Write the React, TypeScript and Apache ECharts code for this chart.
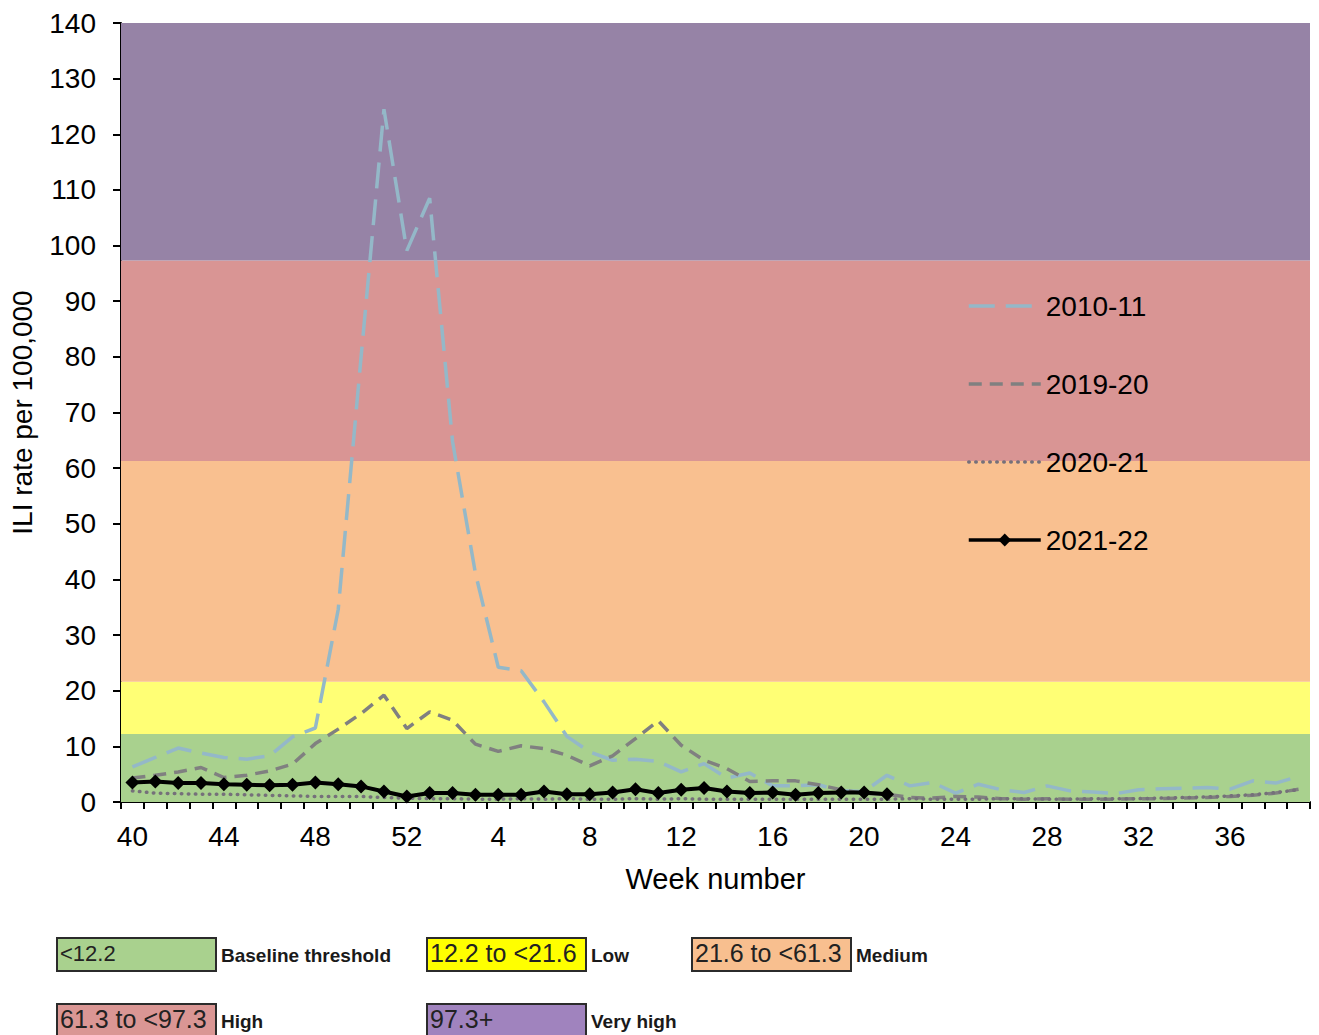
import React, { useEffect, useRef } from "react";
import * as echarts from "echarts";

const weeks = [
  "40", "41", "42", "43", "44", "45", "46", "47", "48", "49", "50", "51", "52",
  "1", "2", "3", "4", "5", "6", "7", "8", "9", "10", "11", "12", "13",
  "14", "15", "16", "17", "18", "19", "20", "21", "22", "23", "24", "25", "26",
  "27", "28", "29", "30", "31", "32", "33", "34", "35", "36", "37", "38", "39",
];

const s2010 = [
  6.3, 8.0, 9.7, 8.8, 8.0, 7.7, 8.3, 11.7, 13.3, 34.6, 80.0, 124.5, 99.1,
  108.5, 64.8, 41.1, 24.2, 23.6, 18.0, 11.8, 9.0, 7.5, 7.7, 7.3, 5.4, 6.9,
  4.3, 5.2, 2.9, 2.9, 3.1, 2.0, 1.9, 4.8, 2.9, 3.5, 1.6, 3.2, 2.2,
  1.7, 2.9, 2.0, 1.8, 1.5, 2.2, 2.4, 2.5, 2.6, 2.3, 3.8, 3.4, 4.6,
];

const s2019 = [
  4.3, 4.8, 5.4, 6.2, 4.4, 4.8, 5.6, 6.8, 10.5, 13.1, 15.9, 19.2, 13.2,
  16.2, 14.7, 10.4, 9.1, 10.1, 9.6, 8.4, 6.5, 8.3, 11.4, 14.6, 10.2, 7.5,
  6.0, 3.7, 3.8, 3.8, 3.1, 2.2, 1.5, 1.4, 0.8, 0.7, 1.0, 0.9, 0.6,
  0.5, 0.6, 0.5, 0.5, 0.5, 0.6, 0.6, 0.7, 0.8, 1.0, 1.2, 1.6, 2.3,
];

const s2020 = [
  2.0, 1.6, 1.5, 1.4, 1.4, 1.3, 1.2, 1.1, 1.0, 1.0, 1.0, 0.8, 0.7,
  0.6, 0.6, 0.5, 0.5, 0.6, 0.5, 0.6, 0.5, 0.5, 0.6, 0.5, 0.6, 0.5,
  0.5, 0.5, 0.5, 0.5, 0.5, 0.5, 0.5, 0.5, 0.6, 0.5, 0.5, 0.5, 0.6,
  0.6, 0.5, 0.5, 0.6, 0.6, 0.6, 0.7, 0.8, 0.9, 1.1, 1.3, 1.7, 2.2,
];

const s2021 = [
  3.5, 3.7, 3.4, 3.4, 3.2, 3.1, 3.0, 3.1, 3.5, 3.2, 2.8, 1.9, 1.0,
  1.6, 1.6, 1.3, 1.3, 1.3, 1.9, 1.4, 1.4, 1.7, 2.3, 1.6, 2.2, 2.5,
  1.9, 1.6, 1.7, 1.3, 1.6, 1.7, 1.7, 1.4,
];

const seriesNames = ["2010-11", "2019-20", "2020-21", "2021-22"];

const thresholds = [0, 12.2, 21.6, 61.3, 97.3, 140];
const bandFill = ["#A9D18E", "#FFFF75", "#F9C090", "#D99594", "#9683A6"];
const boxFill = ["#A9D18E", "#FFFF00", "#F8BF8F", "#DA9694", "#A083BE"];
const bandLabels = ["<12.2", "12.2 to <21.6", "21.6 to <61.3", "61.3 to <97.3", "97.3+"];
const bandNames = ["Baseline threshold", "Low", "Medium", "High", "Very high"];

const FONT = "'Liberation Sans', Arial, sans-serif";

export default function App() {
  const ref = useRef<HTMLDivElement>(null);

  useEffect(() => {
    document.body.style.margin = "0";
    const chart = echarts.init(ref.current!, null, { renderer: "svg" });

    const boxPos = [
      [56, 937],
      [426, 937],
      [691, 937],
      [56, 1003],
      [426, 1003],
    ];
    const graphics: any[] = [];
    bandLabels.forEach((lab, i) => {
      const [bx, by] = boxPos[i];
      graphics.push({
        type: "rect",
        left: bx,
        top: by,
        shape: { width: 159, height: 33 },
        style: { fill: boxFill[i], stroke: "#2b2b2b", lineWidth: 2 },
      });
      graphics.push({
        type: "text",
        left: bx + 4,
        top: by + (i === 0 ? 5 : 3),
        style: {
          text: lab,
          fontSize: i === 0 ? 22 : 25,
          fontFamily: FONT,
          fill: "#222",
        },
      });
      graphics.push({
        type: "text",
        left: bx + 165,
        top: by + 9,
        style: {
          text: bandNames[i],
          fontSize: 19,
          fontWeight: "bold",
          fontFamily: FONT,
          fill: "#1a1a1a",
        },
      });
    });

    const bandAreas = bandFill.map((c, i) => [
      { yAxis: thresholds[i], itemStyle: { color: c, opacity: 1 } },
      { yAxis: thresholds[i + 1] },
    ]);

    chart.setOption({
      animation: false,
      textStyle: { fontFamily: FONT },
      grid: { left: 121, right: 9, top: 23, bottom: 233, containLabel: false },
      legend: {
        data: [
          { name: seriesNames[0], itemStyle: { opacity: 0 }, lineStyle: { width: 3.5, type: [26, 11] } },
          { name: seriesNames[1], itemStyle: { opacity: 0 }, lineStyle: { width: 3.5, type: [13, 8] } },
          { name: seriesNames[2], itemStyle: { opacity: 0 }, lineStyle: { width: 3.5, type: [0.5, 6.5], cap: "round" } },
          { name: seriesNames[3], lineStyle: { width: 3.5 } },
        ],
        orient: "vertical",
        left: 962,
        top: 287,
        itemWidth: 72,
        itemHeight: 16,
        itemGap: 50,
        textStyle: { fontSize: 28, color: "#000", fontFamily: FONT },
      },
      xAxis: {
        type: "category",
        data: weeks,
        boundaryGap: true,
        name: "Week number",
        nameLocation: "middle",
        nameGap: 62,
        nameTextStyle: { fontSize: 29, color: "#000", fontFamily: FONT },
        axisLine: { lineStyle: { color: "#000", width: 2 } },
        axisTick: { show: true, interval: 0, length: 7, lineStyle: { color: "#000", width: 2 } },
        axisLabel: { interval: 3, fontSize: 28, color: "#000", margin: 20, fontFamily: FONT },
        splitLine: { show: false },
      },
      yAxis: {
        type: "value",
        min: 0,
        max: 140,
        interval: 10,
        name: "ILI rate per 100,000",
        nameLocation: "middle",
        nameGap: 85,
        nameRotate: 90,
        nameTextStyle: { fontSize: 28, color: "#000", fontFamily: FONT },
        axisLine: { show: true, lineStyle: { color: "#000", width: 2 } },
        axisTick: { show: true, length: 8, lineStyle: { color: "#000", width: 2 } },
        axisLabel: { fontSize: 28, color: "#000", margin: 25, fontFamily: FONT },
        splitLine: { show: false },
      },
      graphic: graphics,
      series: [
        {
          name: "bands",
          type: "line",
          data: [],
          silent: true,
          z: 0,
          markArea: { silent: true, data: bandAreas },
        },
        {
          name: seriesNames[0],
          type: "line",
          data: s2010,
          symbol: "none",
          z: 3,
          lineStyle: { color: "#94B8C8", width: 3.5, type: [26, 11] },
          itemStyle: { color: "#94B8C8" },
        },
        {
          name: seriesNames[1],
          type: "line",
          data: s2019,
          symbol: "none",
          z: 4,
          lineStyle: { color: "#808080", width: 3.5, type: [13, 8] },
          itemStyle: { color: "#808080" },
        },
        {
          name: seriesNames[2],
          type: "line",
          data: s2020,
          symbol: "none",
          z: 5,
          lineStyle: { color: "#75707A", width: 3.5, type: [0.5, 6.5], cap: "round" },
          itemStyle: { color: "#75707A" },
        },
        {
          name: seriesNames[3],
          type: "line",
          data: s2021,
          symbol: "diamond",
          symbolSize: 14,
          z: 6,
          lineStyle: { color: "#000", width: 4 },
          itemStyle: { color: "#000" },
        },
      ],
    });

    return () => chart.dispose();
  }, []);

  return <div ref={ref} style={{ width: 1319, height: 1035 }} />;
}
